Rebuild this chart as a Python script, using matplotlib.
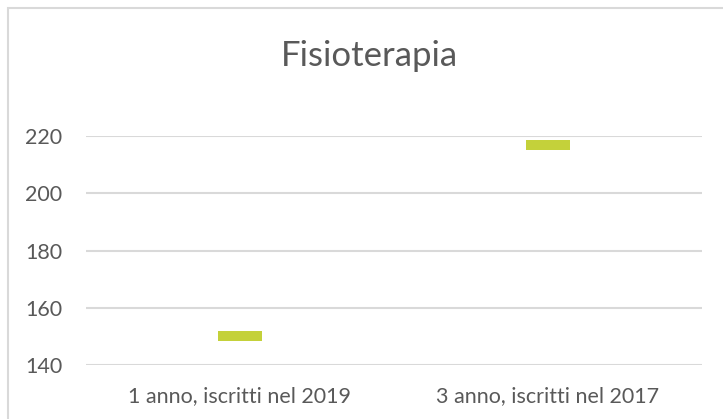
#!/usr/bin/env python3

import matplotlib
matplotlib.use('Agg')
from matplotlib import pyplot as plt
from matplotlib.patches import Rectangle

categorie = ['1 anno, iscritti nel 2019', '3 anno, iscritti nel 2017']
iscritti = [150, 217]
yticks = [140, 160, 180, 200, 220]
titolo = 'Fisioterapia'

grigio = '#D9D9D9'
testo = '#595959'
verde = '#C4D13A'

plt.rcParams['font.family'] = ['Lato', 'DejaVu Sans']


def main():
    fig = plt.figure(figsize=(7.23, 4.19), dpi=100)
    ax = fig.add_axes([86/723, 1 - 365/419, 616/723, 229/419])

    x = list(range(len(categorie)))
    ax.plot(x, iscritti, ls='none', marker='_', color=verde,
            markersize=44*0.72, markeredgewidth=10*0.72)

    ax.set_xlim(-0.5, len(categorie) - 0.5)
    ax.set_ylim(yticks[0], yticks[-1])
    ax.set_yticks(yticks)
    ax.set_xticks(x)
    ax.set_xticklabels(categorie)
    for s in ax.spines.values():
        s.set_visible(False)
    ax.grid(axis='y', color=grigio, lw=1.5)
    ax.set_axisbelow(True)
    ax.tick_params(length=0, labelcolor=testo, labelsize=15.5)
    ax.tick_params(axis='y', pad=17)
    ax.tick_params(axis='x', pad=15)

    fig.text(369/723, 1 - 56/419, titolo, ha='center', va='center',
             fontsize=25, color=testo)

    # bordo del grafico
    fig.patches.append(Rectangle((8/723, -0.1), 1.0, 1 - 8/419 + 0.1,
                                 transform=fig.transFigure, fill=False,
                                 edgecolor=grigio, lw=1.5))

    plt.savefig("out.png", dpi=100, format='png')
    plt.clf()


if __name__ == '__main__':
    main()
